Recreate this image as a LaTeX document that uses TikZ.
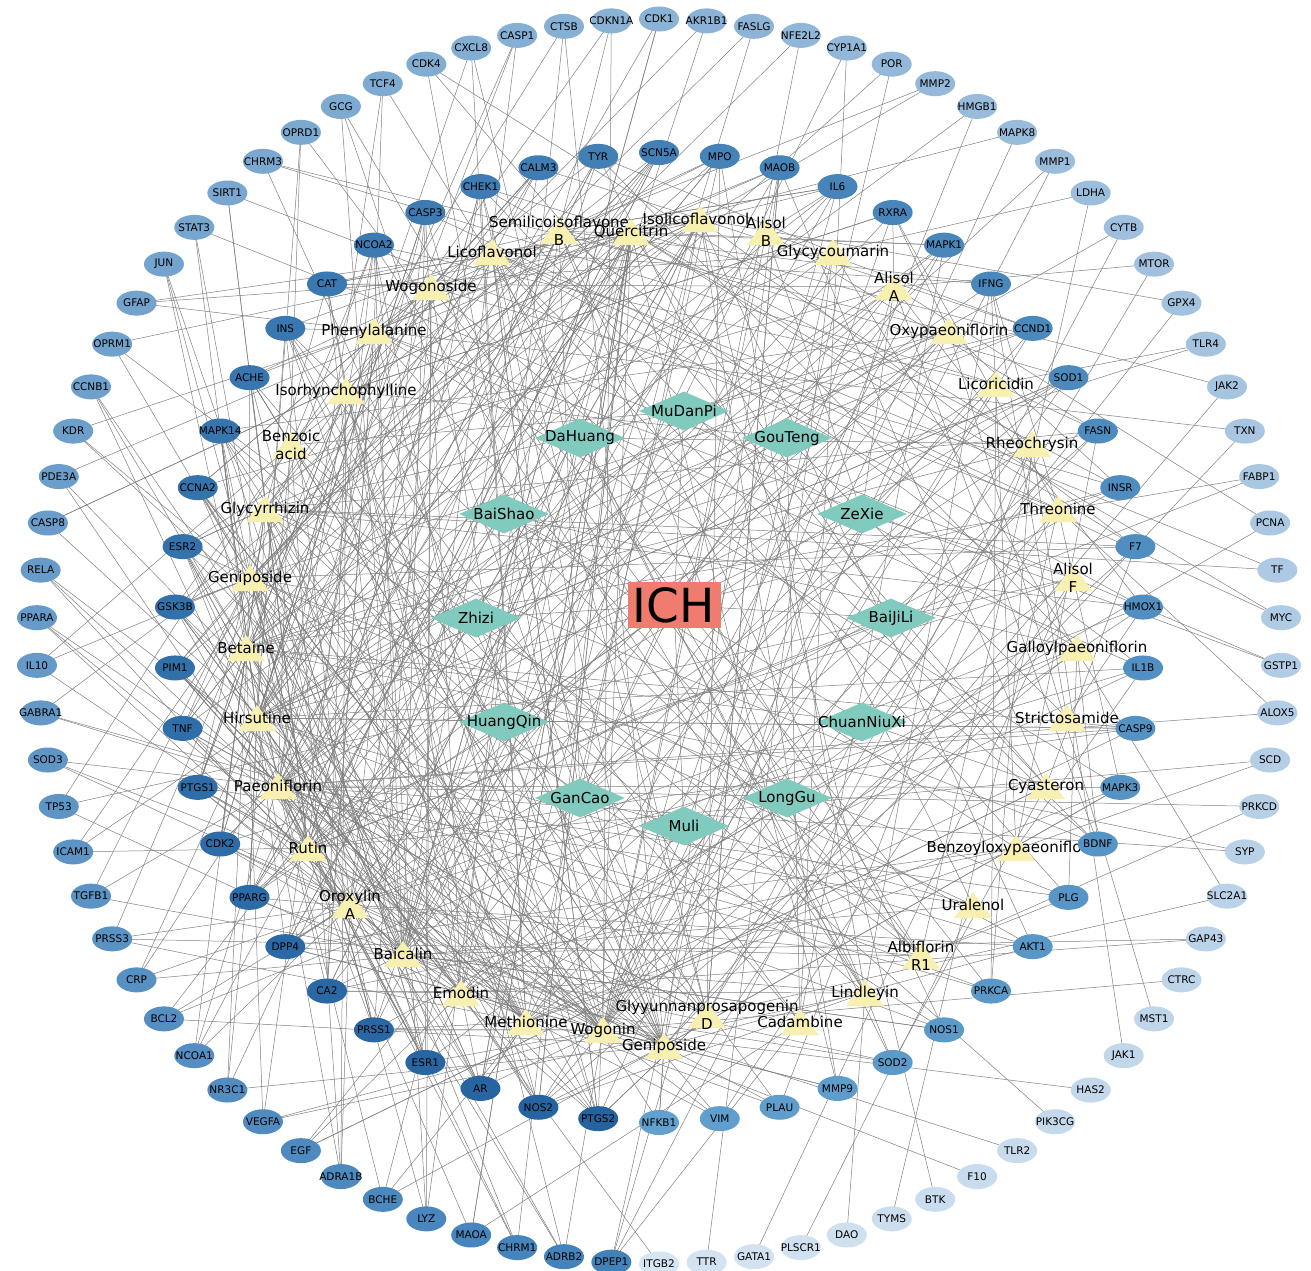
\documentclass[tikz,border=0pt]{standalone}
\usepackage{fontspec}
\setmainfont{DejaVu Sans}
\usetikzlibrary{shapes.geometric}
\pgfdeclarelayer{paper}
\pgfdeclarelayer{edges}
\pgfsetlayers{paper,edges,main}

\definecolor{herbgreen}{RGB}{128,203,190}
\definecolor{cpdyellow}{RGB}{247,240,176}
\definecolor{ichred}{RGB}{240,124,111}
\definecolor{outerdark}{RGB}{66,130,187}
\definecolor{outerlight}{RGB}{214,229,242}
\definecolor{innerdark}{RGB}{36,98,160}
\definecolor{innerlight}{RGB}{98,160,206}
\definecolor{edgegray}{RGB}{128,128,128}

\tikzstyle{target} = [ellipse, minimum width=40, minimum height=25, inner sep=0, font=\fontsize{10.5}{12}\selectfont]
\tikzstyle{compound} = [rectangle, minimum width=38, minimum height=26, inner sep=0, path picture={\fill[cpdyellow] (path picture bounding box.south west) -- (path picture bounding box.south east) -- (path picture bounding box.north) -- cycle;}]
\tikzstyle{ctext} = [font=\fontsize{15}{18}\selectfont, align=center, inner sep=0]
\tikzstyle{herb} = [diamond, fill=herbgreen, minimum width=90, minimum height=39, inner sep=0]
\tikzstyle{disease} = [rectangle, fill=ichred, minimum width=93, minimum height=46, inner sep=0, font=\fontsize{47}{50}\selectfont]
\tikzstyle{link} = [edgegray, line width=0.5pt]

% weighted list of compounds the targets are linked to
\foreach \cname [count=\n from 0] in {baicalin,baicalin,baicalin,baicalin,emodin,emodin,emodin,emodin,
        methionine,methionine,methionine,methionine,wogonin,wogonin,wogonin,wogonin,
        paeoniflorin,paeoniflorin,paeoniflorin,paeoniflorin,hirsutine,hirsutine,hirsutine,hirsutine,
        rutin,rutin,rutin,betaine,betaine,betaine,genipa,genipa,genipa,glycyrrhizin,glycyrrhizin,glycyrrhizin,
        oroxylin,oroxylin,oroxylin,genipb,genipb,genipb,quercitrin,quercitrin,quercitrin,isolico,isolico,isolico,
        benzoic,benzoic,isorhyn,isorhyn,phenylalanine,phenylalanine,wogonoside,wogonoside,
        licoflavonol,licoflavonol,semb,semb,glyyun,glyyun,alisolb,glycycoumarin,alisola,oxypaeoniflorin,
        licoricidin,rheochrysin,threonine,alisolf,galloyl,strictosamide,cyasteron,benzoyl,uralenol,
        albiflorin,lindleyin,cadambine}
    {\expandafter\xdef\csname cpdpool\n\endcsname{\cname}}

\begin{document}
\begin{tikzpicture}[x=1pt, y=-1pt]

    \begin{pgfonlayer}{paper}
        \fill[white] (0,0) rectangle (1311,1270);
    \end{pgfonlayer}
    \useasboundingbox (0,0) rectangle (1311,1270);
    \pgfmathsetseed{42}

    % Disease
    \node (ich) [disease] at (674,605) {ICH};

    % Herbs
    \node (mudanpi) [herb, label={[ctext]center:MuDanPi}] at (684,411) {};
    \node (dahuang) [herb, label={[ctext]center:DaHuang}] at (580,438) {};
    \node (gouteng) [herb, label={[ctext]center:GouTeng}] at (787,438) {};
    \node (baishao) [herb, label={[ctext]center:BaiShao}] at (504,514) {};
    \node (zexie) [herb, label={[ctext]center:ZeXie}] at (862,514) {};
    \node (zhizi) [herb, label={[ctext]center:Zhizi}] at (476,618) {};
    \node (baijili) [herb, label={[ctext]center:BaiJiLi}] at (891,618) {};
    \node (huangqin) [herb, label={[ctext]center:HuangQin}] at (504,722) {};
    \node (chuanniuxi) [herb, label={[ctext]center:ChuanNiuXi}] at (862,722) {};
    \node (gancao) [herb, label={[ctext]center:GanCao}] at (580,798) {};
    \node (longgu) [herb, label={[ctext]center:LongGu}] at (787,798) {};
    \node (muli) [herb, label={[ctext]center:Muli}] at (684,826) {};

    % Compounds
    \node (semb) [compound, label={[ctext]center:{Semilicoisoflavone\\B}}] at (559,231) {};
    \node (isolico) [compound, label={[ctext, xshift=-4]center:Isolicoflavonol}] at (700,219) {};
    \node (alisolb) [compound, label={[ctext]center:{Alisol\\B}}] at (766,232) {};
    \node (quercitrin) [compound, label={[ctext]center:Quercitrin}] at (631,232) {};
    \node (licoflavonol) [compound, label={[ctext]center:Licoflavonol}] at (492,252) {};
    \node (glycycoumarin) [compound, label={[ctext]center:Glycycoumarin}] at (833,252) {};
    \node (wogonoside) [compound, label={[ctext]center:Wogonoside}] at (431,287) {};
    \node (alisola) [compound, label={[ctext]center:{Alisol\\A}}] at (894,287) {};
    \node (phenylalanine) [compound, label={[ctext]center:Phenylalanine}] at (374,331) {};
    \node (oxypaeoniflorin) [compound, label={[ctext]center:Oxypaeoniflorin}] at (949,331) {};
    \node (isorhyn) [compound, label={[ctext]center:Isorhynchophylline}] at (346,391) {};
    \node (licoricidin) [compound, label={[ctext]center:Licoricidin}] at (996,384) {};
    \node (benzoic) [compound, label={[ctext]center:{Benzoic\\acid}}] at (291,445) {};
    \node (rheochrysin) [compound, label={[ctext]center:Rheochrysin}] at (1032,444) {};
    \node (glycyrrhizin) [compound, label={[ctext]center:Glycyrrhizin}] at (265,509) {};
    \node (threonine) [compound, label={[ctext]center:Threonine}] at (1058,509) {};
    \node (genipa) [compound, label={[ctext]center:Geniposide}] at (250,578) {};
    \node (alisolf) [compound, label={[ctext]center:{Alisol\\F}}] at (1073,578) {};
    \node (betaine) [compound, label={[ctext]center:Betaine}] at (246,648) {};
    \node (galloyl) [compound, label={[ctext]center:Galloylpaeoniflorin}] at (1077,648) {};
    \node (hirsutine) [compound, label={[ctext]center:Hirsutine}] at (257,718) {};
    \node (strictosamide) [compound, label={[ctext]center:Strictosamide}] at (1067,718) {};
    \node (paeoniflorin) [compound, label={[ctext]center:Paeoniflorin}] at (278,786) {};
    \node (cyasteron) [compound, label={[ctext]center:Cyasteron}] at (1046,786) {};
    \node (rutin) [compound, label={[ctext]center:Rutin}] at (308,848) {};
    \node (benzoyl) [compound, label={[ctext, xshift=-12]center:Benzoyloxypaeoniflo}] at (1016,848) {};
    \node (oroxylin) [compound, label={[ctext]center:{Oroxylin\\A}}] at (350,905) {};
    \node (uralenol) [compound, label={[ctext]center:Uralenol}] at (973,905) {};
    \node (baicalin) [compound, label={[ctext]center:Baicalin}] at (403,954) {};
    \node (albiflorin) [compound, label={[ctext]center:{Albiflorin\\R1}}] at (921,956) {};
    \node (emodin) [compound, label={[ctext]center:Emodin}] at (461,993) {};
    \node (lindleyin) [compound, label={[ctext]center:Lindleyin}] at (865,993) {};
    \node (methionine) [compound, label={[ctext]center:Methionine}] at (526,1022) {};
    \node (glyyun) [compound, label={[ctext]center:{Glyyunnanprosapogenin\\D}}] at (707,1015) {};
    \node (cadambine) [compound, label={[ctext]center:Cadambine}] at (800,1022) {};
    \node (wogonin) [compound, label={[ctext]center:Wogonin}] at (603,1030) {};
    \node (genipb) [compound, label={[ctext]center:Geniposide}] at (664,1046) {};

    % Herb - disease and herb - compound links
    \begin{pgfonlayer}{edges}
        \foreach \herb in {mudanpi, dahuang, gouteng, baishao, zexie, zhizi, baijili, huangqin, chuanniuxi, gancao, longgu, muli}
            \draw[link] (ich.center) -- (\herb.center);
        \foreach \herb/\cpd in {gancao/semb, gancao/isolico, gancao/licoflavonol, gancao/glycycoumarin, gancao/licoricidin, gancao/glycyrrhizin, gancao/uralenol, gancao/glyyun,
                huangqin/wogonoside, huangqin/baicalin, huangqin/oroxylin, huangqin/wogonin,
                zexie/alisolb, zexie/alisola, zexie/alisolf,
                mudanpi/oxypaeoniflorin, mudanpi/benzoic, mudanpi/galloyl, mudanpi/paeoniflorin,
                baishao/paeoniflorin, baishao/albiflorin, baishao/benzoyl, baishao/oxypaeoniflorin, baishao/galloyl,
                gouteng/isorhyn, gouteng/hirsutine, gouteng/strictosamide, gouteng/cadambine,
                dahuang/rheochrysin, dahuang/emodin, dahuang/lindleyin,
                zhizi/genipa, zhizi/genipb,
                chuanniuxi/betaine, chuanniuxi/cyasteron, chuanniuxi/threonine,
                baijili/rutin, baijili/quercitrin,
                longgu/phenylalanine, muli/methionine}
            \draw[link] (\herb.center) -- (\cpd.center);
    \end{pgfonlayer}

    % Targets, inner ring
    \foreach \gene [count=\idx from 0] in {SCN5A, MPO, MAOB, IL6, RXRA, MAPK1, IFNG, CCND1, SOD1, FASN,
            INSR, F7, HMOX1, IL1B, CASP9, MAPK3, BDNF, PLG, AKT1, PRKCA, NOS1, SOD2, MMP9, PLAU, VIM,
            NFKB1, PTGS2, NOS2, AR, ESR1, PRSS1, CA2, DPP4, PPARG, CDK2, PTGS1, TNF, PIM1, GSK3B, ESR2,
            CCNA2, MAPK14, ACHE, INS, CAT, NCOA2, CASP3, CHEK1, CALM3, TYR} {
        \pgfmathsetmacro\ang{90-\idx*7.2}
        \pgfmathtruncatemacro\rank{mod(\idx+24,50)}
        \pgfmathtruncatemacro\tone{\rank*100/49}
        \node (\gene) [target, fill=innerlight!\tone!innerdark] at ({659+485*cos(\ang)}, {637.5-485*sin(\ang)}) {\makebox[0pt]{\gene}};
        \pgfmathtruncatemacro\nlinks{4+round((49-\rank)*8/49)}
        \begin{pgfonlayer}{edges}
            \foreach \j in {1,...,\nlinks} {
                \pgfmathrandominteger{\pick}{0}{77}
                \edef\cpd{\csname cpdpool\pick\endcsname}
                \draw[link] (\cpd.center) -- (\gene.center);
            }
        \end{pgfonlayer}
    }

    % Targets, outer ring
    \foreach \gene [count=\idx from 0] in {CDK1, AKR1B1, FASLG, NFE2L2, CYP1A1, POR, MMP2, HMGB1, MAPK8, MMP1,
            LDHA, CYTB, MTOR, GPX4, TLR4, JAK2, TXN, FABP1, PCNA, TF, MYC, GSTP1, ALOX5, SCD, PRKCD, SYP,
            SLC2A1, GAP43, CTRC, MST1, JAK1, HAS2, PIK3CG, TLR2, F10, BTK, TYMS, DAO, PLSCR1, GATA1, TTR,
            ITGB2, DPEP1, ADRB2, CHRM1, MAOA, LYZ, BCHE, ADRA1B, EGF, VEGFA, NR3C1, NCOA1, BCL2, CRP, PRSS3,
            TGFB1, ICAM1, TP53, SOD3, GABRA1, IL10, PPARA, RELA, CASP8, PDE3A, KDR, CCNB1, OPRM1, GFAP, JUN,
            STAT3, SIRT1, CHRM3, OPRD1, GCG, TCF4, CDK4, CXCL8, CASP1, CTSB, CDKN1A} {
        \pgfmathsetmacro\ang{90-\idx*(360/82)}
        \pgfmathtruncatemacro\rank{mod(\idx+40,82)}
        \pgfmathtruncatemacro\tone{\rank*100/81}
        \node (\gene) [target, fill=outerlight!\tone!outerdark] at ({659+622.5*cos(\ang)}, {641.5-622.5*sin(\ang)}) {\makebox[0pt]{\gene}};
        \pgfmathtruncatemacro\nlinks{1+round((81-\rank)*3/81)}
        \begin{pgfonlayer}{edges}
            \foreach \j in {1,...,\nlinks} {
                \pgfmathrandominteger{\pick}{0}{77}
                \edef\cpd{\csname cpdpool\pick\endcsname}
                \draw[link] (\cpd.center) -- (\gene.center);
            }
        \end{pgfonlayer}
    }

\end{tikzpicture}
\end{document}
